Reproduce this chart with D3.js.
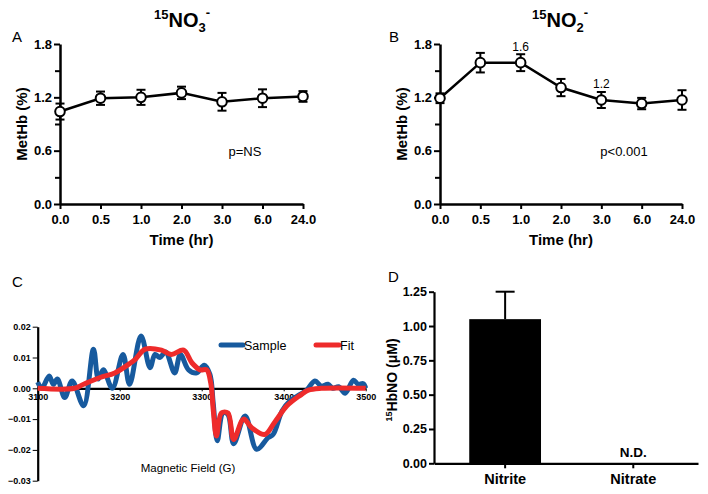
<!DOCTYPE html>
<html>
<head>
<meta charset="utf-8">
<script src="https://cdn.jsdelivr.net/npm/d3@7"></script>
<style>
  body { margin: 0; background: #fff; }
  svg { display: block; font-family: "Liberation Sans", Arial, sans-serif; }
  .tick text { font-weight: bold; fill: #000; }
  text { fill: #000; }
</style>
</head>
<body>
<svg width="708" height="494"></svg>
<script>
// ---- data ----
var times = ["0.0", "0.5", "1.0", "2.0", "3.0", "6.0", "24.0"];
var nitrateMean = [1.04, 1.19, 1.20, 1.25, 1.15, 1.19, 1.21];
var nitrateErr = [0.09, 0.075, 0.085, 0.07, 0.10, 0.10, 0.06];
var nitriteMean = [1.19, 1.59, 1.59, 1.31, 1.17, 1.13, 1.17];
var nitriteErr = [0.055, 0.11, 0.095, 0.097, 0.09, 0.064, 0.11];

var sampleField = [3100, 3105, 3114, 3119, 3124, 3133, 3142, 3156, 3168, 3174, 3180, 3191, 3204, 3212,
  3226, 3237, 3243, 3249, 3256, 3267, 3274, 3284, 3294, 3303, 3310, 3314, 3319, 3326, 3332, 3339,
  3353, 3367, 3381, 3387, 3398, 3408, 3420, 3428, 3438, 3446, 3454, 3460, 3467, 3475, 3485, 3491, 3497, 3500];
var sampleVals = [0.002, 0.000, 0.004, 0.0013, 0.003, -0.003, 0.0024, -0.0057, 0.0127, 0.003, 0.006, 0.000, 0.011, 0.0013,
  0.017, 0.0067, 0.011, 0.010, 0.0118, 0.005, 0.011, 0.006, 0.005, 0.0075, 0.0045, -0.0047, -0.017, -0.008, -0.0085, -0.018,
  -0.009, -0.0198, -0.016, -0.015, -0.0074, -0.004, -0.002, -0.0006, 0.0024, 0.0007, 0.0013, 0.000, 0.0005, -0.0016, 0.0026, 0.0013, 0.0015, 0.000];
var fitField = [3100, 3145, 3156, 3176, 3194, 3212, 3219, 3231, 3251, 3263, 3278, 3288, 3298, 3306, 3311, 3314, 3318,
  3324, 3332, 3339, 3351, 3361, 3377, 3389, 3404, 3420, 3430, 3446, 3500];
var fitVals = [0, 0, 0.0013, 0.0035, 0.005, 0.008, 0.0094, 0.0127, 0.0124, 0.011, 0.0124, 0.0083, 0.006, 0.006, 0.0018, -0.0068, -0.0155,
  -0.008, -0.008, -0.0166, -0.010, -0.0128, -0.015, -0.011, -0.0057, -0.0023, -0.0006, 0, 0];

var hbCats = ["Nitrite", "Nitrate"];
var hbVals = [1.05, 0];
var hbErr = [0.2, 0];

var svg = d3.select("svg");

// ---- panels A and B ----
function timePanel(opt) {
  var x = d3.scalePoint().domain(times).range([opt.x0, opt.x1]);
  var y = d3.scaleLinear().domain([0, 1.8]).range([204, 44]);
  var g = svg.append("g");

  g.append("g").attr("transform", "translate(" + opt.x0 + ",0)")
    .call(d3.axisLeft(y).tickValues([0, 0.6, 1.2, 1.8]).tickFormat(d3.format(".1f")).tickSize(6).tickSizeOuter(0).tickPadding(2));
  g.append("g").attr("transform", "translate(" + opt.x0 + ",0)")
    .call(d3.axisLeft(y).tickValues([0.3, 0.9, 1.5]).tickFormat("").tickSize(5).tickSizeOuter(0))
    .select(".domain").remove();
  g.append("g").attr("transform", "translate(0,204)")
    .call(d3.axisBottom(x).tickSize(5).tickSizeOuter(0).tickPadding(6));
  g.selectAll(".domain").attr("stroke-width", 2.5);
  g.selectAll(".tick line").attr("stroke-width", 2);
  g.selectAll(".tick text").attr("font-size", 13);

  g.append("text").attr("x", (opt.x0 + opt.x1) / 2).attr("y", 245).attr("text-anchor", "middle")
    .attr("font-size", 15).attr("font-weight", "bold").text("Time (hr)");
  g.append("text").attr("transform", "translate(" + (opt.x0 - 33) + ",124) rotate(-90)").attr("text-anchor", "middle")
    .attr("font-size", 15).attr("font-weight", "bold").text("MetHb (%)");

  var t = g.append("text").attr("x", opt.tx).attr("y", 27).attr("text-anchor", "middle")
    .attr("font-size", 20).attr("font-weight", "bold");
  t.append("tspan").attr("font-size", 13).attr("dy", -8).text("15");
  t.append("tspan").attr("dy", 8).text("NO");
  t.append("tspan").attr("font-size", 13).attr("dy", 5).text(opt.sub);
  t.append("tspan").attr("font-size", 13).attr("dy", -15).text("-");

  g.append("text").attr("x", opt.lx).attr("y", 42).attr("font-size", 15).text(opt.letter);
  g.append("text").attr("x", opt.px).attr("y", 156).attr("text-anchor", "middle").attr("font-size", 13).text(opt.p);

  var pts = times.map(function (t, i) { return { t: t, m: opt.mean[i], e: opt.err[i] }; });
  g.append("path").datum(pts).attr("fill", "none").attr("stroke", "#000").attr("stroke-width", 2.5)
    .attr("d", d3.line().x(function (d) { return x(d.t); }).y(function (d) { return y(d.m); }));
  var eb = g.selectAll(".eb").data(pts).enter().append("g");
  eb.append("line").attr("x1", function (d) { return x(d.t); }).attr("x2", function (d) { return x(d.t); })
    .attr("y1", function (d) { return y(d.m - d.e); }).attr("y2", function (d) { return y(d.m + d.e); })
    .attr("stroke", "#000").attr("stroke-width", 2);
  [-1, 1].forEach(function (s) {
    eb.append("line").attr("x1", function (d) { return x(d.t) - 4.5; }).attr("x2", function (d) { return x(d.t) + 4.5; })
      .attr("y1", function (d) { return y(d.m + s * d.e); }).attr("y2", function (d) { return y(d.m + s * d.e); })
      .attr("stroke", "#000").attr("stroke-width", 2);
  });
  eb.append("circle").attr("cx", function (d) { return x(d.t); }).attr("cy", function (d) { return y(d.m); })
    .attr("r", 4.8).attr("fill", "#fff").attr("stroke", "#000").attr("stroke-width", 2);

  (opt.notes || []).forEach(function (n) {
    g.append("text").attr("x", x(n.t)).attr("y", n.y).attr("text-anchor", "middle").attr("font-size", 12)
      .attr("fill", "#000").text(n.label);
  });
}

timePanel({ x0: 60, x1: 303, mean: nitrateMean, err: nitrateErr, sub: "3", tx: 182, lx: 12, letter: "A", px: 245, p: "p=NS" });
timePanel({ x0: 440, x1: 682, mean: nitriteMean, err: nitriteErr, sub: "2", tx: 560, lx: 389, letter: "B", px: 624, p: "p<0.001",
  notes: [{ t: "1.0", y: 51, label: "1.6" }, { t: "3.0", y: 88, label: "1.2" }] });

// ---- panel C ----
(function () {
  var x = d3.scaleLinear().domain([3100, 3500]).range([37.7, 365.7]);
  var y = d3.scaleLinear().domain([-0.03, 0.02]).range([480.7, 326.7]);
  var g = svg.append("g");
  g.append("g").attr("transform", "translate(37.7,0)")
    .call(d3.axisLeft(y).tickValues([-0.03, -0.02, -0.01, 0, 0.01, 0.02]).tickFormat(d3.format(".2f")).tickSize(5).tickSizeOuter(0).tickPadding(2));
  g.append("g").attr("transform", "translate(0," + y(0) + ")")
    .call(d3.axisBottom(x).tickValues([3100, 3200, 3300, 3400, 3500]).tickFormat(d3.format("d")).tickSize(3).tickSizeOuter(0).tickPadding(2));
  g.selectAll(".domain").attr("stroke-width", 2.2);
  g.selectAll(".tick text").attr("font-size", 9);

  var line = d3.line().curve(d3.curveCatmullRom.alpha(0.5))
    .x(function (d) { return x(d[0]); }).y(function (d) { return y(d[1]); });
  g.append("path").datum(d3.zip(sampleField, sampleVals)).attr("fill", "none")
    .attr("stroke", "#175a9e").attr("stroke-width", 5).attr("stroke-linejoin", "round").attr("d", line);
  g.append("path").datum(d3.zip(fitField, fitVals)).attr("fill", "none")
    .attr("stroke", "#ee2b2b").attr("stroke-width", 5).attr("stroke-linejoin", "round").attr("d", line);

  g.append("line").attr("x1", 221).attr("x2", 243).attr("y1", 345).attr("y2", 345)
    .attr("stroke", "#175a9e").attr("stroke-width", 5).attr("stroke-linecap", "round");
  g.append("text").attr("x", 244).attr("y", 350).attr("font-size", 12.5).text("Sample");
  g.append("line").attr("x1", 316).attr("x2", 339).attr("y1", 345).attr("y2", 345)
    .attr("stroke", "#ee2b2b").attr("stroke-width", 5).attr("stroke-linecap", "round");
  g.append("text").attr("x", 340).attr("y", 350).attr("font-size", 12.5).text("Fit");

  g.append("text").attr("x", 188).attr("y", 472).attr("text-anchor", "middle").attr("font-size", 11.5).text("Magnetic Field (G)");
  g.append("text").attr("x", 12).attr("y", 287).attr("font-size", 15).text("C");
})();

// ---- panel D ----
(function () {
  var x = d3.scaleBand().domain(hbCats).range([434, 698]).paddingInner(0.44).paddingOuter(0.25).align(0.55);
  var y = d3.scaleLinear().domain([0, 1.25]).range([463.3, 291.7]);
  var g = svg.append("g");
  var rows = hbCats.map(function (c, i) { return { c: c, v: hbVals[i], e: hbErr[i] }; });

  g.selectAll(".bar").data(rows.filter(function (d) { return d.v > 0; })).enter().append("rect")
    .attr("x", function (d) { return x(d.c); }).attr("width", x.bandwidth())
    .attr("y", function (d) { return y(d.v); }).attr("height", function (d) { return y(0) - y(d.v); })
    .attr("fill", "#000");
  var eb = g.selectAll(".eb").data(rows.filter(function (d) { return d.e > 0; })).enter().append("g");
  eb.append("line").attr("x1", function (d) { return x(d.c) + x.bandwidth() / 2; }).attr("x2", function (d) { return x(d.c) + x.bandwidth() / 2; })
    .attr("y1", function (d) { return y(d.v); }).attr("y2", function (d) { return y(d.v + d.e); })
    .attr("stroke", "#000").attr("stroke-width", 2);
  eb.append("line").attr("x1", function (d) { return x(d.c) + x.bandwidth() / 2 - 9.5; }).attr("x2", function (d) { return x(d.c) + x.bandwidth() / 2 + 9.5; })
    .attr("y1", function (d) { return y(d.v + d.e); }).attr("y2", function (d) { return y(d.v + d.e); })
    .attr("stroke", "#000").attr("stroke-width", 2);

  g.append("g").attr("transform", "translate(434,0)")
    .call(d3.axisLeft(y).tickValues([0, 0.25, 0.5, 0.75, 1.0, 1.25]).tickFormat(d3.format(".2f")).tickSize(5).tickSizeOuter(0).tickPadding(2))
    .selectAll(".tick text").attr("font-size", 12.5);
  g.append("g").attr("transform", "translate(0,463.3)")
    .call(d3.axisBottom(x).tickSize(5).tickSizeOuter(0).tickPadding(5))
    .selectAll(".tick text").attr("font-size", 14.5);
  g.selectAll(".domain").attr("stroke-width", 2.2);
  g.selectAll(".tick line").attr("stroke-width", 2);

  g.append("text").attr("x", x("Nitrate") + x.bandwidth() / 2).attr("y", 457).attr("text-anchor", "middle")
    .attr("font-size", 13.5).attr("font-weight", "bold").text("N.D.");
  var t = g.append("text").attr("transform", "translate(397,380) rotate(-90)").attr("text-anchor", "middle")
    .attr("font-size", 14).attr("font-weight", "bold");
  t.append("tspan").attr("font-size", 9).attr("dy", -5).text("15");
  t.append("tspan").attr("dy", 5).text("HbNO (μM)");
  g.append("text").attr("x", 388).attr("y", 282).attr("font-size", 15).text("D");
})();
</script>
</body>
</html>
